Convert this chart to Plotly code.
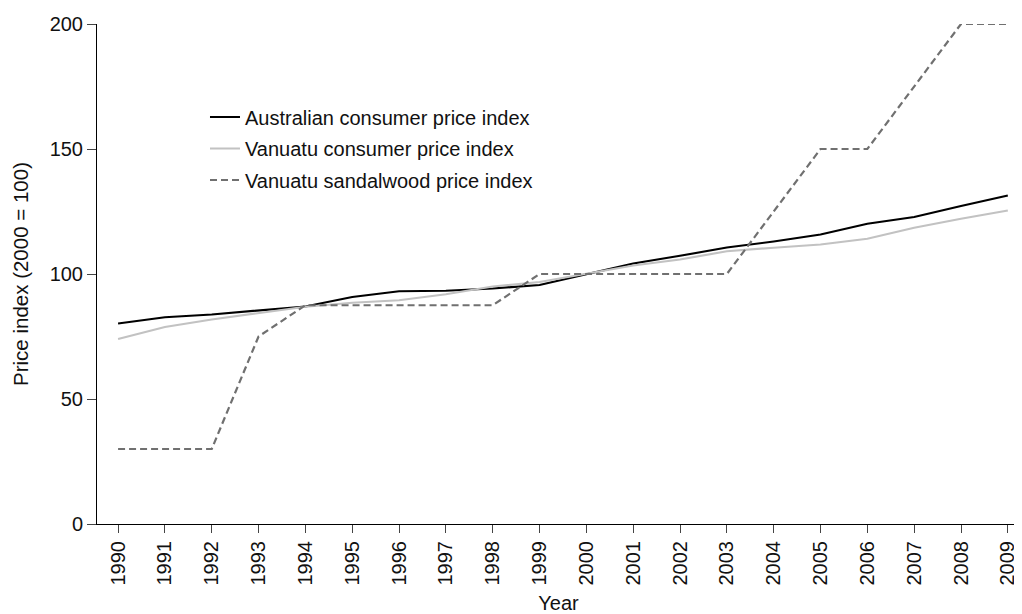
import plotly.graph_objects as go

years = list(range(1990, 2010))
aus_cpi = [80.2, 82.7, 83.8, 85.3, 87.0, 90.8, 93.1, 93.3, 94.2, 95.6, 100.0,
           104.2, 107.3, 110.6, 113.0, 115.8, 120.1, 122.8, 127.2, 131.4]
van_cpi = [74.0, 78.8, 81.8, 84.4, 86.9, 88.5, 89.5, 91.9, 95.0, 96.8, 100.0,
           103.4, 105.8, 109.1, 110.5, 111.8, 114.1, 118.5, 122.1, 125.4]
sandalwood = [30, 30, 30, 75, 87.5, 87.5, 87.5, 87.5, 87.5, 100, 100,
              100, 100, 100, 125, 150, 150, 175, 200, 200]
series_names = ["Australian consumer price index",
                "Vanuatu consumer price index",
                "Vanuatu sandalwood price index"]
y_ticks = [0, 50, 100, 150, 200]

FONT = "Liberation Sans, Arial, Helvetica, sans-serif"

fig = go.Figure()
fig.add_trace(go.Scatter(x=years, y=aus_cpi, mode="lines", name=series_names[0],
                         legendgroup="a",
                         line=dict(color="#000000", width=2.2)))
fig.add_trace(go.Scatter(x=years, y=van_cpi, mode="lines", name=series_names[1],
                         legendgroup="b",
                         line=dict(color="#c2c2c2", width=2.2)))
fig.add_trace(go.Scatter(x=years, y=sandalwood, mode="lines", name=series_names[2],
                         legendgroup="c",
                         line=dict(color="#707070", width=2.2, dash="7px,4px")))

# page body has an 8px default margin, so the figure is sized to fit the window
fig.update_layout(
    width=1014, height=606,
    margin=dict(l=89, r=2, t=16, b=90),
    paper_bgcolor="white", plot_bgcolor="white",
    font=dict(family=FONT, size=20, color="#111111"),
    showlegend=True,
    legend=dict(x=0.117, y=0.853, xanchor="left", yanchor="top",
                bgcolor="rgba(0,0,0,0)", borderwidth=0,
                font=dict(size=20), tracegroupgap=2.5, itemwidth=30,
                traceorder="grouped"),
    xaxis=dict(range=[1989.55, 2009.26], tickmode="array", tickvals=years,
               ticktext=[str(y) for y in years], tickangle=-90,
               showgrid=False, zeroline=False, showline=True,
               linecolor="#000000", linewidth=1, automargin=False,
               ticks="outside", ticklen=8, tickcolor="#444444",
               title=dict(text="Year", font=dict(size=20), standoff=12)),
    yaxis=dict(range=[0, 200], tickmode="array", tickvals=y_ticks,
               showgrid=False, zeroline=False, showline=True,
               linecolor="#000000", linewidth=1, automargin=False,
               ticks="outside", ticklen=9, tickcolor="#444444",
               title=dict(text="Price index (2000 = 100)", font=dict(size=20.5),
                          standoff=15)),
)

fig.write_html("out.html")
